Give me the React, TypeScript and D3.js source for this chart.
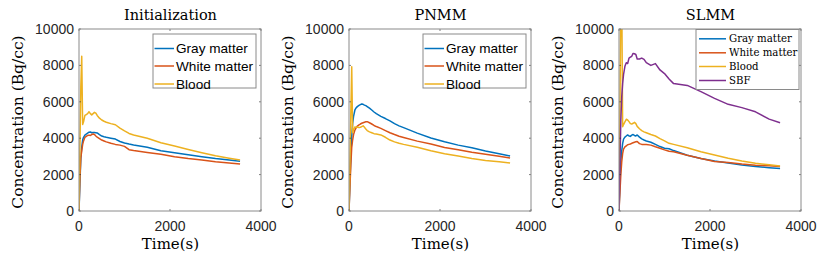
import React from 'react';
import * as d3 from 'd3';

// frame mid-times (s)
const time = [0, 20, 40, 60, 80, 100, 130, 160, 190, 220, 250, 280, 310, 340, 370, 400, 450, 500, 550, 600, 700, 800, 900, 1000, 1100, 1200, 1500, 1800, 2100, 2400, 2700, 3000, 3300, 3540];

// Initialization
const initGray = [0, 1500, 2900, 3500, 3900, 4050, 4170, 4230, 4280, 4330, 4340, 4300, 4320, 4310, 4300, 4290, 4200, 4120, 4080, 4050, 4000, 3950, 3820, 3740, 3680, 3630, 3500, 3310, 3200, 3090, 2980, 2880, 2800, 2740];
const initWhite = [0, 1800, 2900, 3300, 3650, 3850, 4050, 4100, 4150, 4170, 4150, 4200, 4230, 4200, 4120, 4060, 3980, 3900, 3850, 3800, 3720, 3660, 3620, 3550, 3370, 3320, 3220, 3120, 2980, 2880, 2800, 2700, 2640, 2580];
const initBlood = [0, 3400, 6800, 8500, 4750, 4900, 5250, 5300, 5350, 5450, 5350, 5280, 5350, 5420, 5380, 5250, 5100, 5000, 4930, 4880, 4800, 4740, 4550, 4400, 4260, 4180, 4000, 3750, 3570, 3380, 3200, 3030, 2900, 2800];

// PNMM
const pnmmGray = [0, 1500, 3000, 4100, 4800, 5200, 5550, 5680, 5750, 5800, 5840, 5880, 5860, 5820, 5790, 5740, 5650, 5550, 5440, 5350, 5200, 5080, 4950, 4800, 4680, 4580, 4280, 4010, 3800, 3620, 3480, 3300, 3150, 3020];
const pnmmWhite = [0, 1300, 2500, 3500, 3900, 4200, 4450, 4580, 4680, 4730, 4780, 4820, 4850, 4880, 4900, 4910, 4850, 4780, 4700, 4640, 4540, 4420, 4300, 4200, 4110, 4040, 3840, 3680, 3490, 3370, 3230, 3120, 3010, 2910];
const pnmmBlood = [0, 2600, 5300, 7930, 4300, 4450, 4620, 4600, 4620, 4580, 4600, 4640, 4680, 4600, 4500, 4420, 4350, 4300, 4250, 4230, 4180, 4050, 3900, 3800, 3720, 3660, 3500, 3310, 3150, 3020, 2880, 2780, 2700, 2640];

// SLMM
const slmmGray = [0, 1400, 2700, 3300, 3700, 3950, 4060, 4120, 4180, 4120, 4100, 4170, 4200, 4150, 4120, 4180, 4060, 3960, 3900, 3850, 3780, 3660, 3540, 3450, 3420, 3320, 3060, 2890, 2750, 2640, 2530, 2440, 2380, 2330];
const slmmWhite = [0, 1000, 1980, 2700, 3150, 3400, 3520, 3580, 3640, 3660, 3680, 3720, 3750, 3780, 3800, 3820, 3700, 3660, 3660, 3660, 3620, 3530, 3450, 3360, 3280, 3250, 3060, 2890, 2720, 2660, 2580, 2520, 2480, 2440];
const slmmBlood = [0, 5000, 12000, 12000, 4630, 4750, 4900, 5040, 5000, 4910, 4800, 4780, 4820, 4870, 4800, 4650, 4520, 4420, 4350, 4300, 4200, 4120, 3980, 3850, 3720, 3660, 3480, 3260, 3080, 2900, 2750, 2620, 2540, 2470];
const slmmSBF = [0, 2500, 5000, 6280, 7000, 7500, 7950, 8150, 8100, 8400, 8450, 8500, 8660, 8640, 8600, 8350, 8350, 8400, 8330, 8150, 8000, 8100, 7750, 7550, 7250, 7000, 6900, 6560, 6190, 5860, 5680, 5450, 5050, 4850];

const titles = ['Initialization', 'PNMM', 'SLMM'];
const seriesNames = ['Gray matter', 'White matter', 'Blood', 'SBF'];
const colors = ['#0072BD', '#D95319', '#EDB120', '#7E2F8E'];
const xTicks = [0, 2000, 4000];
const yTicks = [0, 2000, 4000, 6000, 8000, 10000];

const panels = [
  { title: titles[0], data: [initGray, initWhite, initBlood], left: 79, legend: 'sans' },
  { title: titles[1], data: [pnmmGray, pnmmWhite, pnmmBlood], left: 349, legend: 'sans' },
  { title: titles[2], data: [slmmGray, slmmWhite, slmmBlood, slmmSBF], left: 619, legend: 'serif' },
];

const TOP = 29;
const SIZE = 182;
const SERIF = '"DejaVu Serif", "Liberation Serif", serif';
const SANS = '"Liberation Sans", Arial, Helvetica, sans-serif';
const AXIS = '#262626';

function Panel({ p, idx }: { p: typeof panels[number]; idx: number }) {
  const x = d3.scaleLinear().domain([0, 4000]).range([0, SIZE]);
  const y = d3.scaleLinear().domain([0, 10000]).range([SIZE, 0]);
  const line = d3
    .line<number>()
    .x((_, i) => x(time[i]))
    .y((d) => y(d));
  const clipId = `clip-${idx}`;
  const isSerif = p.legend === 'serif';
  const lg = isSerif
    ? { x: 77, y: 0.5, w: 103, h: 60, rows: [9.3, 23.3, 37, 51], lx1: 3, lx2: 30, tx: 33, fs: 10.2, font: SERIF }
    : { x: 74, y: 5, w: 103, h: 54, rows: [14.5, 32, 50], lx1: 1.5, lx2: 21, tx: 23, fs: 13.6, font: SANS };

  return (
    <g transform={`translate(${p.left},${TOP})`}>
      <defs>
        <clipPath id={clipId}>
          <rect x={0} y={0} width={SIZE} height={SIZE} />
        </clipPath>
      </defs>
      <rect x={0} y={0} width={SIZE} height={SIZE} fill="#fff" />
      <g clipPath={`url(#${clipId})`}>
        {p.data.map((s, i) => (
          <path key={i} d={line(s) || ''} fill="none" stroke={colors[i]} strokeWidth={1.5} strokeLinejoin="round" />
        ))}
      </g>
      {/* ticks */}
      {xTicks.map((t) => (
        <g key={'x' + t}>
          <line x1={x(t)} x2={x(t)} y1={SIZE} y2={SIZE - 2} stroke={AXIS} strokeWidth={0.6} />
          <line x1={x(t)} x2={x(t)} y1={0} y2={2} stroke={AXIS} strokeWidth={0.6} />
          <text x={x(t)} y={SIZE + 20} textAnchor="middle" fontFamily={SANS} fontSize={14} fill={AXIS}>
            {t}
          </text>
        </g>
      ))}
      {yTicks.map((t) => (
        <g key={'y' + t}>
          <line x1={0} x2={2} y1={y(t)} y2={y(t)} stroke={AXIS} strokeWidth={0.6} />
          <line x1={SIZE} x2={SIZE - 2} y1={y(t)} y2={y(t)} stroke={AXIS} strokeWidth={0.6} />
          <text x={-5} y={y(t)} dy="0.36em" textAnchor="end" fontFamily={SANS} fontSize={14} fill={AXIS}>
            {t}
          </text>
        </g>
      ))}
      <rect x={0} y={0} width={SIZE} height={SIZE} fill="none" stroke="#8a8a8a" strokeWidth={1} />
      {/* legend */}
      <g transform={`translate(${lg.x},${lg.y})`}>
        <rect x={0} y={0} width={lg.w} height={lg.h} fill="#fff" stroke="#8a8a8a" strokeWidth={1} />
        {p.data.map((_, i) => (
          <g key={i}>
            <line x1={lg.lx1} x2={lg.lx2} y1={lg.rows[i]} y2={lg.rows[i]} stroke={colors[i]} strokeWidth={1.5} />
            <text x={lg.tx} y={lg.rows[i]} dy="0.35em" fontFamily={lg.font} fontSize={lg.fs} fill="#000">
              {seriesNames[i]}
            </text>
          </g>
        ))}
      </g>
      {/* labels */}
      <text x={SIZE / 2 + 0.5} y={-9} textAnchor="middle" fontFamily={SERIF} fontSize={14.5} fill="#000">
        {p.title}
      </text>
      <text x={SIZE / 2 + 0.5} y={SIZE + 38} textAnchor="middle" fontFamily={SERIF} fontSize={15} fill="#000">
        Time(s)
      </text>
      <text transform={`translate(-56,${SIZE / 2 + 2}) rotate(-90)`} textAnchor="middle" fontFamily={SERIF} fontSize={15.5} fill="#000">
        Concentration (Bq/cc)
      </text>
    </g>
  );
}

export default function App() {
  return (
    <svg width={830} height={257} style={{ position: 'absolute', left: 0, top: 0, background: '#fff' }}>
      {panels.map((p, i) => (
        <Panel key={i} p={p} idx={i} />
      ))}
    </svg>
  );
}
